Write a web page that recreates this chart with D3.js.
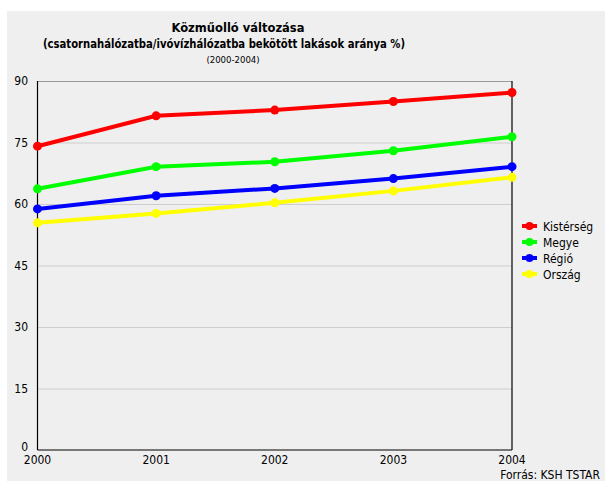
<!DOCTYPE html>
<html>
<head>
<meta charset="utf-8">
<script src="https://cdn.jsdelivr.net/npm/d3@7"></script>
<style>
  body { margin: 0; background: #fff; }
  text { font-family: "DejaVu Sans Condensed", "DejaVu Sans", sans-serif; }
</style>
</head>
<body>
<svg id="chart" width="605" height="483"></svg>
<script>
// data
const years = [2000, 2001, 2002, 2003, 2004];
const yTicks = [0, 15, 30, 45, 60, 75, 90];
const seriesNames = ['Kistérség', 'Megye', 'Régió', 'Ország'];
const seriesColors = ['#ff0000', '#00ff00', '#0000ff', '#ffff00'];
const kisterseg = [74.1, 81.5, 82.9, 85.0, 87.2];
const megye = [63.7, 69.1, 70.3, 73.0, 76.4];
const regio = [58.8, 62.0, 63.8, 66.2, 69.1];
const orszag = [55.4, 57.7, 60.3, 63.2, 66.5];
const seriesValues = [kisterseg, megye, regio, orszag];

const svg = d3.select('#chart');

// grey panel
svg.append('rect')
  .attr('x', 7).attr('y', 11)
  .attr('width', 598).attr('height', 470)
  .attr('fill', '#efefef');

let x = d3.scaleLinear().domain([2000, 2004]).range([37.5, 512]);
let y = d3.scaleLinear().domain([0, 90]).range([450, 81]);

// titles
svg.append('text')
  .attr('x', 238).attr('y', 32)
  .attr('text-anchor', 'middle')
  .attr('font-size', 13).attr('font-weight', 'bold')
  .attr('textLength', 133).attr('lengthAdjust', 'spacingAndGlyphs')
  .text('Közműolló változása');
svg.append('text')
  .attr('x', 224).attr('y', 47.5)
  .attr('text-anchor', 'middle')
  .attr('font-size', 13).attr('font-weight', 'bold')
  .attr('textLength', 362).attr('lengthAdjust', 'spacingAndGlyphs')
  .text('(csatornahálózatba/ivóvízhálózatba bekötött lakások aránya %)');
svg.append('text')
  .attr('x', 233).attr('y', 63)
  .attr('text-anchor', 'middle')
  .attr('font-size', 9.5)
  .text('(2000-2004)');

// grid lines
svg.append('g')
  .selectAll('line')
  .data(yTicks.filter(d => d > 0))
  .join('line')
  .attr('x1', x(2000)).attr('x2', x(2004))
  .attr('y1', d => y(d) + 0.5).attr('y2', d => y(d) + 0.5)
  .attr('stroke', d => d === 90 ? '#444' : '#aaa')
  .attr('stroke-dasharray', '1,1');

// frame
svg.append('line')
  .attr('x1', x(2000)).attr('x2', x(2000))
  .attr('y1', y(90)).attr('y2', y(0))
  .attr('stroke', '#000').attr('stroke-width', 1.2);
svg.append('line')
  .attr('x1', x(2004)).attr('x2', x(2004))
  .attr('y1', y(90)).attr('y2', y(0))
  .attr('stroke', '#000').attr('stroke-width', 1.2);
svg.append('line')
  .attr('x1', x(2000)).attr('x2', x(2004))
  .attr('y1', y(0)).attr('y2', y(0))
  .attr('stroke', '#000').attr('stroke-width', 1.2);

// y axis labels
svg.append('g')
  .selectAll('text')
  .data(yTicks)
  .join('text')
  .attr('x', 28)
  .attr('y', d => y(d) + (d === 0 ? 1 : 4))
  .attr('text-anchor', 'end')
  .attr('font-size', 12)
  .text(d => d);

// x axis labels
svg.append('g')
  .selectAll('text')
  .data(years)
  .join('text')
  .attr('x', d => x(d))
  .attr('y', 464)
  .attr('text-anchor', 'middle')
  .attr('font-size', 12)
  .text(d => d);

svg.append('text')
  .attr('x', 600).attr('y', 479)
  .attr('text-anchor', 'end')
  .attr('font-size', 12)
  .text('Forrás: KSH TSTAR');

// series
let line = d3.line()
  .x((d, i) => x(years[i]))
  .y(d => y(d));

seriesValues.forEach((vals, s) => {
  let g = svg.append('g');
  g.append('path')
    .datum(vals)
    .attr('d', line)
    .attr('fill', 'none')
    .attr('stroke', seriesColors[s])
    .attr('stroke-width', 4);
  g.selectAll('circle')
    .data(vals)
    .join('circle')
    .attr('cx', (d, i) => x(years[i]))
    .attr('cy', d => y(d))
    .attr('r', 4.5)
    .attr('fill', seriesColors[s]);
});

// legend
let legend = svg.append('g')
  .selectAll('g')
  .data(seriesNames)
  .join('g')
  .attr('transform', (d, i) => `translate(522, ${226 + i * 16})`);
legend.append('line')
  .attr('x1', 0).attr('x2', 15)
  .attr('stroke', (d, i) => seriesColors[i])
  .attr('stroke-width', 4);
legend.append('circle')
  .attr('cx', 7.5).attr('r', 4)
  .attr('fill', (d, i) => seriesColors[i]);
legend.append('text')
  .attr('x', 21).attr('y', 4.5)
  .attr('font-size', 12)
  .text(d => d);
</script>
</body>
</html>
